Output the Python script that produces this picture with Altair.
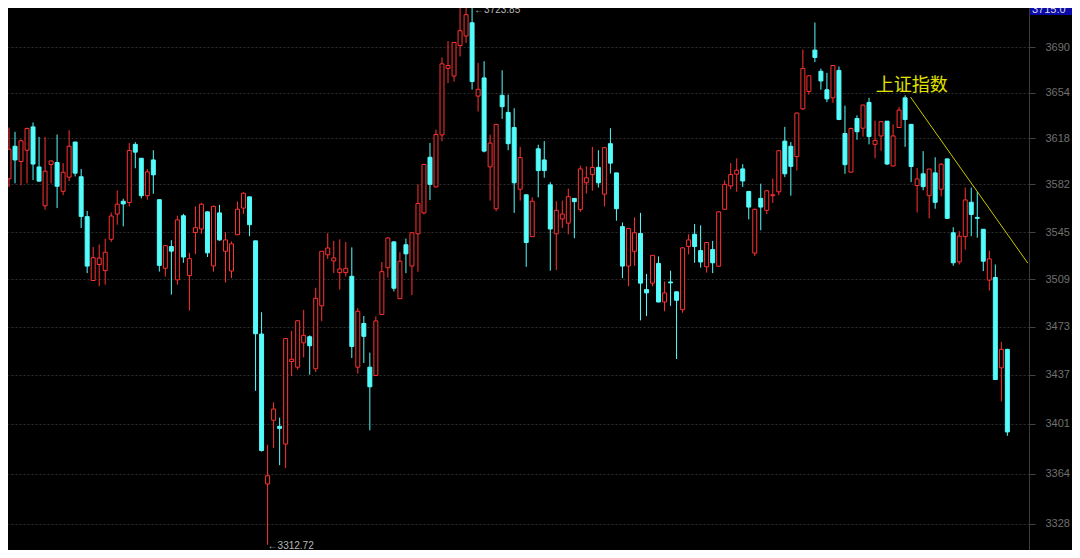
import altair as alt
import pandas as pd

# ---- data (daily candles, oldest first) ----
opens = [
    3586.3, 3611.7, 3599.8, 3608.6, 3626.9, 3595.5, 3565.4, 3597.5, 3599.0, 3576.6,
    3587.6, 3615.0, 3587.9, 3557.0, 3508.1, 3520.3, 3515.6, 3539.6, 3559.0, 3568.9,
    3567.9, 3613.2, 3602.3, 3573.2, 3601.0, 3570.1, 3517.4, 3534.0, 3508.6, 3557.7,
    3511.8, 3544.8, 3547.5, 3560.7, 3519.2, 3559.9, 3530.4, 3515.3, 3543.1, 3563.6,
    3572.3, 3538.4, 3467.6, 3356.7, 3403.4, 3398.9, 3385.9, 3447.0, 3442.8, 3461.0,
    3465.6, 3441.6, 3488.9, 3527.7, 3523.0, 3514.1, 3514.1, 3511.3, 3442.8, 3475.6,
    3442.8, 3436.6, 3482.4, 3517.8, 3537.6, 3494.3, 3535.4, 3519.1, 3543.8, 3559.9,
    3603.1, 3580.0, 3620.6, 3673.2, 3667.1, 3691.4, 3699.1, 3709.7, 3651.2, 3665.6,
    3595.6, 3563.1, 3651.8, 3638.3, 3626.4, 3578.2, 3573.9, 3541.6, 3609.7, 3601.0,
    3581.6, 3543.8, 3555.2, 3552.0, 3571.1, 3562.4, 3583.2, 3589.6, 3595.2, 3574.4,
    3613.7, 3590.9, 3549.3, 3519.1, 3530.4, 3544.1, 3501.2, 3506.1, 3521.1, 3491.8,
    3507.0, 3499.5, 3486.0, 3534.1, 3543.4, 3530.9, 3518.5, 3531.7, 3519.0, 3562.7,
    3580.8, 3589.9, 3594.0, 3576.5, 3529.0, 3571.1, 3561.9, 3573.2, 3576.2, 3615.7,
    3611.7, 3603.6, 3641.1, 3654.9, 3687.8, 3670.9, 3656.2, 3649.8, 3671.6, 3621.7,
    3591.5, 3633.5, 3625.9, 3646.2, 3613.2, 3619.8, 3631.4, 3596.3, 3626.4, 3649.8,
    3628.9, 3581.1, 3590.2, 3573.2, 3590.9, 3578.2, 3601.8, 3544.6, 3522.3, 3541.6,
    3568.1, 3556.4, 3547.3, 3508.4, 3510.4, 3442.3, 3456.1,
]
highs = [
    3626.4, 3623.0, 3617.0, 3626.4, 3630.4, 3619.0, 3619.0, 3600.6, 3620.9, 3598.5,
    3624.3, 3615.2, 3593.9, 3561.4, 3533.7, 3535.6, 3540.1, 3560.2, 3577.2, 3570.8,
    3614.2, 3614.9, 3602.5, 3593.9, 3608.6, 3570.5, 3535.0, 3538.9, 3557.7, 3559.2,
    3529.2, 3564.9, 3567.6, 3561.0, 3565.6, 3566.1, 3545.1, 3537.9, 3568.6, 3575.8,
    3572.5, 3538.5, 3484.1, 3385.4, 3416.7, 3405.3, 3464.5, 3470.0, 3478.0, 3485.8,
    3466.6, 3502.6, 3530.5, 3544.1, 3538.4, 3539.6, 3537.6, 3533.4, 3487.2, 3481.2,
    3453.7, 3480.9, 3522.2, 3541.0, 3538.0, 3529.7, 3540.1, 3545.0, 3582.0, 3598.0,
    3614.3, 3624.7, 3681.9, 3695.0, 3694.3, 3722.5, 3722.8, 3723.85, 3677.6, 3678.9,
    3620.8, 3629.0, 3671.7, 3652.4, 3641.6, 3611.2, 3574.0, 3571.9, 3612.9, 3615.7,
    3583.7, 3568.9, 3569.4, 3578.7, 3571.4, 3596.5, 3596.0, 3611.2, 3608.6, 3611.2,
    3625.9, 3591.0, 3552.5, 3548.0, 3556.4, 3559.9, 3513.1, 3527.5, 3526.5, 3507.3,
    3515.6, 3499.8, 3533.5, 3543.4, 3551.3, 3550.3, 3537.4, 3538.4, 3561.2, 3585.0,
    3598.5, 3602.3, 3597.7, 3576.8, 3563.1, 3582.5, 3577.3, 3586.5, 3608.5, 3626.9,
    3615.0, 3638.1, 3688.3, 3667.8, 3709.9, 3673.0, 3669.6, 3675.8, 3674.7, 3643.6,
    3626.4, 3636.0, 3644.4, 3649.8, 3631.9, 3631.3, 3631.5, 3628.9, 3642.6, 3651.8,
    3629.0, 3594.6, 3607.9, 3594.0, 3603.1, 3598.5, 3602.0, 3548.8, 3545.8, 3579.5,
    3579.5, 3576.2, 3547.5, 3530.9, 3520.3, 3461.7, 3456.6,
]
lows = [
    3580.0, 3582.8, 3581.3, 3582.8, 3585.3, 3584.3, 3562.4, 3582.8, 3563.6, 3573.6,
    3584.5, 3588.1, 3548.3, 3513.7, 3508.1, 3503.7, 3504.9, 3537.6, 3550.8, 3549.5,
    3564.9, 3594.5, 3571.1, 3570.1, 3574.7, 3514.9, 3511.1, 3497.4, 3504.9, 3521.6,
    3485.3, 3528.2, 3543.8, 3526.0, 3514.8, 3538.4, 3506.6, 3509.9, 3542.8, 3559.2,
    3542.0, 3425.2, 3380.4, 3312.72, 3383.0, 3370.4, 3368.3, 3436.1, 3440.9, 3450.1,
    3437.2, 3439.2, 3477.3, 3524.5, 3513.7, 3501.2, 3511.1, 3449.6, 3438.0, 3445.9,
    3396.0, 3436.3, 3482.0, 3510.3, 3499.8, 3494.0, 3513.7, 3497.0, 3514.8, 3558.7,
    3569.9, 3579.7, 3615.6, 3661.5, 3662.7, 3682.7, 3693.5, 3656.3, 3639.0, 3606.9,
    3569.4, 3561.2, 3633.2, 3608.6, 3559.9, 3569.4, 3518.5, 3541.3, 3571.9, 3587.1,
    3515.6, 3516.1, 3548.3, 3543.4, 3540.4, 3560.7, 3574.9, 3577.0, 3579.5, 3564.9,
    3590.4, 3553.9, 3509.9, 3503.7, 3519.3, 3477.9, 3481.1, 3503.7, 3491.5, 3484.8,
    3488.9, 3448.9, 3483.6, 3528.0, 3521.6, 3517.9, 3514.1, 3513.7, 3518.5, 3562.4,
    3578.2, 3576.2, 3580.0, 3554.9, 3526.8, 3546.5, 3559.0, 3567.6, 3573.6, 3587.6,
    3573.2, 3592.7, 3640.3, 3652.4, 3678.2, 3656.2, 3646.4, 3645.9, 3632.2, 3590.2,
    3591.2, 3616.8, 3619.3, 3613.2, 3602.3, 3608.2, 3597.0, 3595.9, 3626.1, 3611.2,
    3583.7, 3560.2, 3577.4, 3555.7, 3563.1, 3572.7, 3555.4, 3519.3, 3520.3, 3531.7,
    3542.0, 3540.8, 3515.3, 3500.4, 3433.3, 3417.4, 3391.9,
]
closes = [
    3609.4, 3601.0, 3616.0, 3625.6, 3597.8, 3584.5, 3592.2, 3600.2, 3580.5, 3591.4,
    3611.7, 3590.7, 3557.2, 3519.1, 3525.5, 3525.2, 3529.7, 3557.5, 3566.6, 3566.8,
    3608.4, 3607.1, 3573.2, 3591.7, 3589.4, 3519.6, 3534.7, 3530.5, 3554.5, 3526.0,
    3524.8, 3548.5, 3566.6, 3529.2, 3564.9, 3539.1, 3539.1, 3536.1, 3562.7, 3575.1,
    3550.8, 3467.8, 3381.1, 3362.7, 3411.7, 3397.4, 3464.2, 3448.7, 3477.6, 3466.6,
    3458.8, 3494.6, 3530.4, 3532.9, 3525.3, 3516.9, 3517.4, 3458.3, 3484.8, 3465.9,
    3428.2, 3477.5, 3514.8, 3540.6, 3502.2, 3522.8, 3528.4, 3544.6, 3567.1, 3597.5,
    3582.0, 3620.9, 3676.8, 3675.5, 3693.9, 3703.3, 3716.2, 3662.7, 3656.6, 3607.9,
    3614.2, 3628.9, 3642.8, 3613.7, 3583.2, 3602.8, 3537.1, 3568.9, 3592.7, 3592.7,
    3547.5, 3561.9, 3559.0, 3572.4, 3568.6, 3594.0, 3587.1, 3595.2, 3583.2, 3610.6,
    3598.5, 3563.1, 3519.1, 3547.8, 3544.6, 3506.1, 3498.7, 3527.3, 3491.8, 3498.7,
    3506.3, 3493.1, 3533.0, 3539.1, 3534.0, 3522.2, 3537.1, 3521.6, 3560.7, 3582.0,
    3589.6, 3593.0, 3584.6, 3564.4, 3562.7, 3564.4, 3577.0, 3573.9, 3608.2, 3590.2,
    3596.0, 3637.8, 3673.2, 3667.3, 3681.9, 3663.2, 3649.0, 3675.5, 3632.7, 3597.3,
    3625.6, 3623.1, 3644.1, 3619.3, 3616.3, 3631.0, 3597.8, 3619.8, 3640.1, 3632.7,
    3595.9, 3586.2, 3580.2, 3593.9, 3568.1, 3597.7, 3555.7, 3521.6, 3542.0, 3569.9,
    3558.7, 3555.7, 3522.8, 3524.6, 3433.6, 3456.1, 3394.8,
]

axis_values = [3328, 3364, 3401, 3437, 3473, 3509, 3545, 3582, 3618, 3654, 3690]

title_text = ["上证指数"]
title_pos = [144.1]          # candle index of the label's left edge
title_val = [3658.8]

trend_idx = [149.9, 169.4]   # yellow trend line end points
trend_val = [3650.4, 3521.3]

peak_label = ["←3723.85"]
peak_idx = [77]
peak_val = [3723.85]

trough_label = ["←3312.72"]
trough_idx = [43]
trough_val = [3312.72]

cursor_label = ["3715.0"]

# ---- build table ----
n = len(opens)
df = pd.DataFrame({
    "i": list(range(n)),
    "open": opens, "high": highs, "low": lows, "close": closes,
})
df["dir"] = ["up" if c >= o else "down" for o, c in zip(df["open"], df["close"])]
df["x0"] = df["i"] - 0.33
df["x1"] = df["i"] + 0.33

RED = "#ff3232"
CYAN = "#54fcfc"

W, H = 1021, 542
xs = alt.Scale(domain=[-0.164, 169.6], nice=False, zero=False)
ys = alt.Scale(type="log", domain=[3309.0, 3721.6], nice=False, zero=False)
col = alt.Scale(domain=["up", "down"], range=[RED, CYAN])
fil = alt.Scale(domain=["up", "down"], range=["#000000", CYAN])

yaxis = alt.Axis(
    orient="right", values=axis_values, format="d", title=None,
    grid=True, gridColor="#2e2e2e", gridDash=[2, 2], gridWidth=1,
    domain=True, domainColor="#3a3a3a", tickColor="#444444", tickSize=6,
    labelColor="#707070", labelFont="Liberation Sans", labelFontSize=11,
    labelPadding=10, labelOverlap=False, labelFlush=False,
)


def X(field):
    return alt.X(field, scale=xs, axis=None)


def Y(field):
    return alt.Y(field, scale=ys, axis=yaxis)


base = alt.Chart(df)

wicks = base.mark_rule(strokeWidth=1, clip=True).encode(
    x=X("i:Q"),
    y=Y("low:Q"),
    y2="high:Q",
    color=alt.Color("dir:N", scale=col, legend=None),
)

bodies = base.mark_rect(strokeWidth=1, clip=True).encode(
    x=X("x0:Q"),
    x2="x1:Q",
    y=Y("open:Q"),
    y2="close:Q",
    fill=alt.Fill("dir:N", scale=fil, legend=None),
    stroke=alt.Stroke("dir:N", scale=col, legend=None),
)

trend = alt.Chart(pd.DataFrame({"i": trend_idx, "v": trend_val})).mark_line(
    color="#c8c800", strokeWidth=1, clip=True
).encode(x=X("i:Q"), y=Y("v:Q"))

title = alt.Chart(pd.DataFrame({"t": title_text, "i": title_pos, "v": title_val})).mark_text(
    align="left", baseline="middle", font="Noto Sans CJK SC", fontSize=18,
    color="#e2e200",
).encode(x=X("i:Q"), y=Y("v:Q"), text="t:N")

peak = alt.Chart(pd.DataFrame({"t": peak_label, "i": peak_idx, "v": peak_val})).mark_text(
    align="left", baseline="alphabetic", dx=2, dy=8, font="Liberation Sans",
    fontSize=10, color="#b8b8b8",
).encode(x=X("i:Q"), y=Y("v:Q"), text="t:N")

trough = alt.Chart(pd.DataFrame({"t": trough_label, "i": trough_idx, "v": trough_val})).mark_text(
    align="left", baseline="middle", dx=0, dy=1, font="Liberation Sans",
    fontSize=10, color="#b8b8b8",
).encode(x=X("i:Q"), y=Y("v:Q"), text="t:N")

cursor_df = pd.DataFrame({"t": cursor_label})
cursor_box = alt.Chart(cursor_df).mark_rect(fill="#0a0aa8").encode(
    x=alt.value(W + 1), x2=alt.value(W + 43), y=alt.value(-12), y2=alt.value(7),
)
cursor_txt = alt.Chart(cursor_df).mark_text(
    align="left", baseline="alphabetic", font="Liberation Sans", fontSize=11,
    color="#d8d8d8",
).encode(x=alt.value(W + 3), y=alt.value(5), text="t:N")

chart = alt.layer(
    wicks, bodies, trend, title, peak, trough, cursor_box, cursor_txt
).properties(
    width=W, height=H,
    autosize=alt.AutoSizeParams(type="none"),
    padding={"left": 0, "top": 0, "right": 43, "bottom": 0},
).configure(
    background="#000000"
).configure_view(stroke=None)

chart.save("out.html", embed_options={"renderer": "svg", "actions": False})
